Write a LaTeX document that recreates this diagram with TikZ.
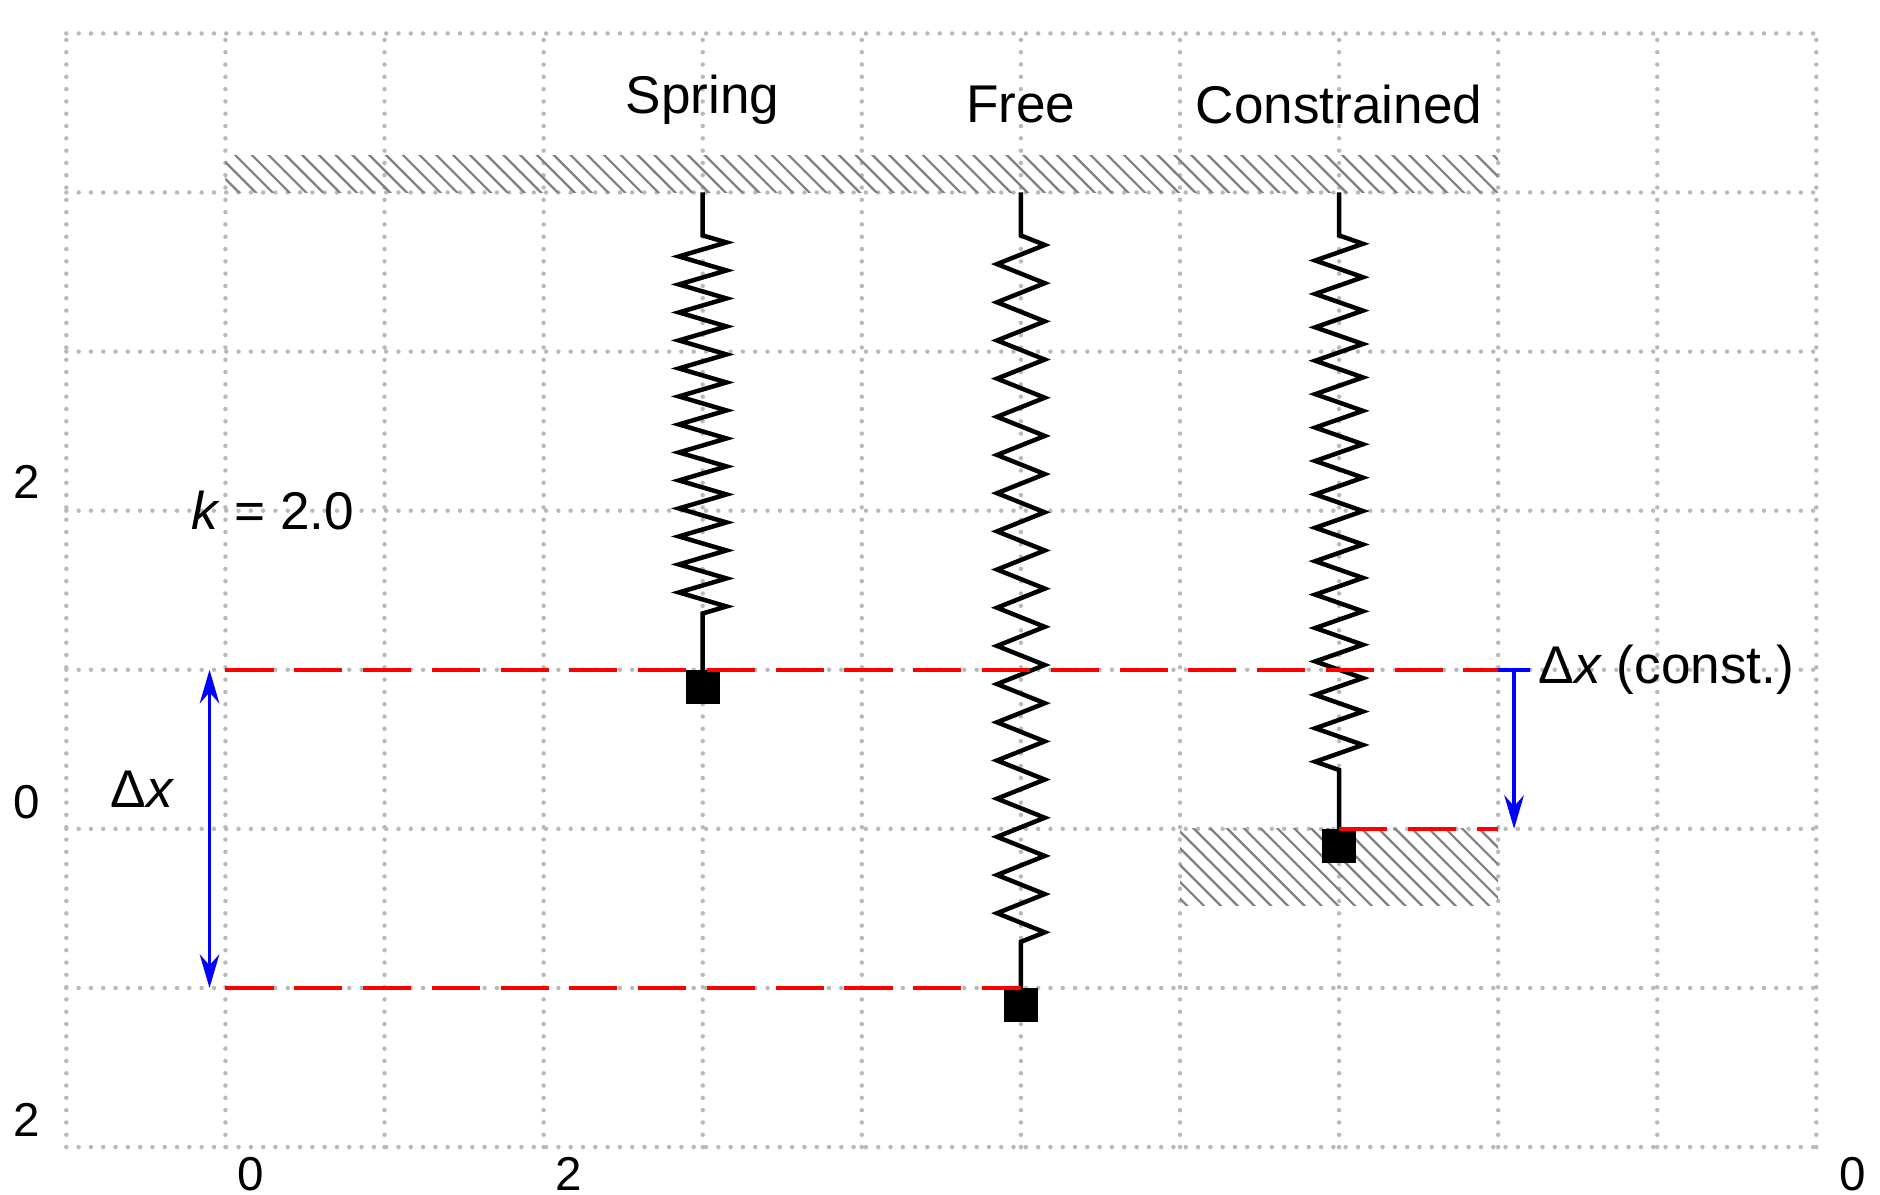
\documentclass[tikz,border=0pt]{standalone}
\usepackage{fontspec}
\setmainfont{Liberation Sans}
\usetikzlibrary{arrows.meta, decorations.pathmorphing, patterns}

\tikzset{
  spring/.style={thick, decorate, decoration={zigzag, amplitude=0.15cm, pre length=0.27cm, post length=0.27cm}},
  mass/.style={fill=black, draw=black, minimum size=0.2cm, inner sep=0pt, anchor=north},
  wall/.style={pattern=north west lines, pattern color=gray},
  refline/.style={red, thick, dash pattern=on 8.6pt off 3.7pt},
  title/.style={font=\fontsize{9.5}{11}\selectfont},
  tick/.style={font=\fontsize{8.5}{10}\selectfont}
}

\begin{document}
\begin{tikzpicture}
              \useasboundingbox (-1.417,-2.30) rectangle (10.40,5.21);

              % Background grid
              \draw[gray!55, line width=0.8pt, line cap=round, dash pattern=on 0pt off 2.2pt] (-1,-2) grid (10,5);

              % Axis labels
              \node[tick] (ty1) at (-1.25,2.18) {2};
              \node[tick] (ty2) at (-1.25,0.17) {0};
              \node[tick] (ty3) at (-1.25,-1.83) {2};
              \node[tick] (tx1) at (0.16,-2.17) {0};
              \node[tick] (tx2) at (2.16,-2.17) {2};
              \node[tick] (tx3) at (10.23,-2.17) {0};

              % Walls
              \fill[wall] (0,4) rectangle (8,4.23);
              \fill[wall] (6,0) rectangle (8,-0.48);

              % Titles
              \node[title] (tSpring) at (3,4.58) {Spring};
              \node[title] (tFree) at (5,4.55) {Free};
              \node[title] (tCons) at (7,4.55) {Constrained};
              \node[title, anchor=west] (kval) at (-0.34,2) {\textit{k} = 2.0};

              % Anchors and masses
              \coordinate (topS) at (3,4);
              \coordinate (topF) at (5,4);
              \coordinate (topC) at (7,4);
              \node[mass] (mS) at (3,1) {};
              \node[mass] (mF) at (5,-1) {};
              \node[mass] (mC) at (7,0) {};

              % Springs
              \draw[spring, decoration={segment length=0.176cm}] (topS) -- (mS.north);
              \draw[spring, decoration={segment length=0.24cm}] (topF) -- (mF.north);
              \draw[spring, decoration={segment length=0.21cm}] (topC) -- (mC.north);

              % Reference lines
              \coordinate (rA) at (0,1);
              \coordinate (rB) at (8,1);
              \coordinate (rC) at (0,-1);
              \coordinate (rD) at (8,0);
              \draw[refline] (rA) -- (rB);
              \draw[refline] (rC) -- (mF.north);
              \draw[refline] (mC.north) -- (rD);

              % Displacements
              \coordinate (dA) at (-0.1,1);
              \coordinate (dB) at (-0.1,-1);
              \draw[blue, semithick, {Stealth[length=6pt,width=3.5pt]}-{Stealth[length=6pt,width=3.5pt]}] (dA) -- (dB);
              \node[title] (dx) at (-0.52,0.25) {Δ\textit{x}};

              \coordinate (cA) at (8.1,1);
              \coordinate (cB) at (8.1,0);
              \draw[blue, thick] (8,1) -- (8.2,1);
              \draw[blue, semithick, -{Stealth[length=6pt,width=3.5pt]}] (cA) -- (cB);
              \node[title, anchor=west] (dxc) at (8.13,1) {Δ\textit{x} (const.)};
            \end{tikzpicture}
\end{document}
